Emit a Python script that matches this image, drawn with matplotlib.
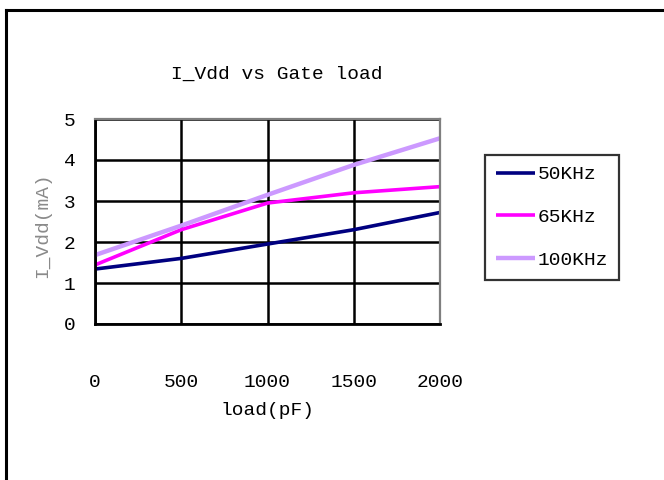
import matplotlib
matplotlib.use("Agg")
import matplotlib.pyplot as plt
from matplotlib.lines import Line2D

# Data
loads = [0, 500, 1000, 1500, 2000]
series_names = ["50KHz", "65KHz", "100KHz"]
i_50k = [1.34, 1.60, 1.95, 2.30, 2.72]
i_65k = [1.44, 2.30, 2.95, 3.20, 3.35]
i_100k = [1.68, 2.40, 3.15, 3.88, 4.53]
x_ticks = [0, 500, 1000, 1500, 2000]
y_ticks = [0, 1, 2, 3, 4, 5]

FONT = "Liberation Mono"

fig = plt.figure(figsize=(6.64, 4.8), dpi=100)
fig.patch.set_facecolor("white")

# outer frame (left and top edges)
fig.add_artist(Line2D([6/664, 6/664], [0, 1 - 10/480], transform=fig.transFigure,
                      color="black", lw=2.2))
fig.add_artist(Line2D([6/664, 1], [1 - 10/480, 1 - 10/480], transform=fig.transFigure,
                      color="black", lw=2.2))

ax = fig.add_axes([95/664, 1 - 324/480, 345/664, 205/480])
ax.set_xlim(0, 2000)
ax.set_ylim(0, 5)
ax.set_xticks(x_ticks)
ax.set_yticks(y_ticks)
ax.grid(True, color="black", lw=1.8)
ax.set_axisbelow(True)
for s in ["left", "bottom"]:
    ax.spines[s].set_color("black")
    ax.spines[s].set_linewidth(2)
for s in ["top", "right"]:
    ax.spines[s].set_color("#7f7f7f")
    ax.spines[s].set_linewidth(1.6)

colors = ["#000080", "#FF00FF", "#CC99FF"]
widths = [2.6, 2.6, 3.2]
for vals, name, c, w in zip([i_50k, i_65k, i_100k], series_names, colors, widths):
    ax.plot(loads, vals, color=c, lw=w, label=name, solid_capstyle="butt")

ax.tick_params(axis="both", length=0)
ax.tick_params(axis="x", pad=36)
ax.tick_params(axis="y", pad=14)
for lab in ax.get_xticklabels() + ax.get_yticklabels():
    lab.set_fontfamily(FONT)
    lab.set_fontsize(14)

ax.set_xlabel("load(pF)", fontfamily=FONT, fontsize=14, labelpad=8)
fig.text(43/664, 1 - 225/480, "I_Vdd(mA)", rotation=90, ha="center", va="center",
         fontfamily=FONT, fontsize=14, color="#8a8a8a")

fig.text(277/664, 1 - 74/480, "I_Vdd vs Gate load", ha="center", va="center",
         fontfamily=FONT, fontsize=14)

leg = fig.legend(loc="upper left", bbox_to_anchor=(485/664, 1 - 155/480),
                 frameon=True, fancybox=False, edgecolor="black",
                 prop={"family": FONT, "size": 14}, handlelength=2.0,
                 handletextpad=0.15, labelspacing=1.3, borderpad=0.55,
                 borderaxespad=0)
leg.get_frame().set_linewidth(1.6)

fig.savefig("out.png", dpi=100, facecolor="white")
